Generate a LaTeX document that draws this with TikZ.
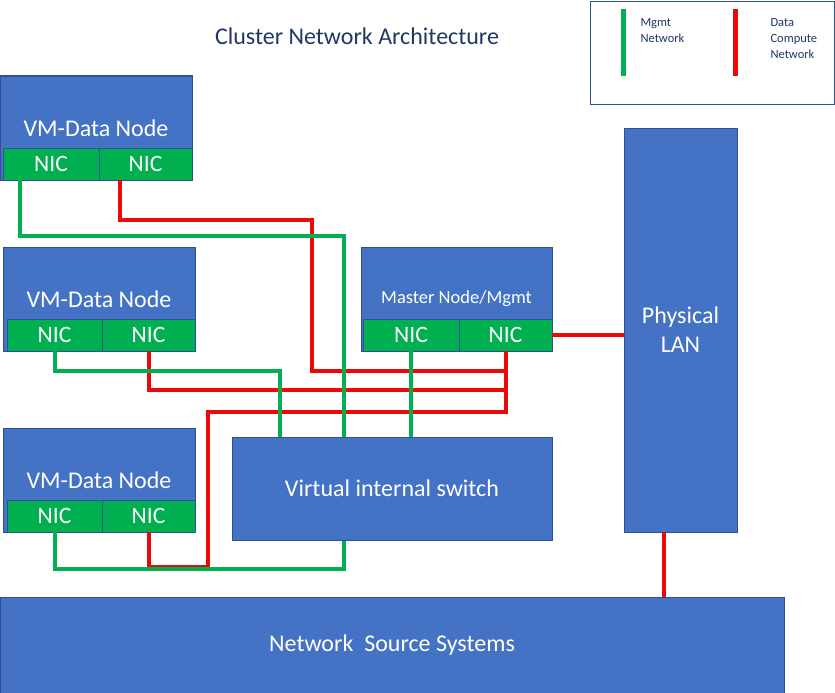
\documentclass[tikz,border=0pt]{standalone}
\usepackage{fontspec}
\setmainfont{Carlito}
\usetikzlibrary{calc}
\definecolor{boxblue}{HTML}{4472C4}
\definecolor{boxedge}{HTML}{2F528F}
\definecolor{nicgreen}{HTML}{00B050}
\definecolor{wirered}{RGB}{235,8,8}
\definecolor{navy}{HTML}{203864}
\tikzset{
  bluebox/.style={draw=boxedge, line width=1pt, fill=boxblue, text=white, inner sep=0pt, align=center},
  nicbox/.style={draw=boxedge, line width=0.7pt, fill=nicgreen, text=white, inner sep=0pt,
    minimum height=32pt, font=\fontsize{23.5}{26}\selectfont},
  big/.style={font=\fontsize{24}{29}\selectfont},
  mg/.style={draw=nicgreen, line width=4pt},
  dc/.style={draw=wirered, line width=4pt},
}
\begin{document}
\begin{tikzpicture}[x=1pt,y=-1pt]
\useasboundingbox (0,0) rectangle (835,693);
\fill[white] (0,0) rectangle (835,693);

% title
\node[text=navy, font=\fontsize{24}{28}\selectfont] (title) at (357,36) {Cluster Network Architecture};

% legend
\node[draw=boxedge, line width=1pt, minimum width=244pt, minimum height=102pt, inner sep=0pt] (legend) at (712,53) {};
\node[text=navy, font=\fontsize{12.5}{16}\selectfont, align=left, anchor=north west] (lg1) at (637,15) {Mgmt\\Network};
\node[text=navy, font=\fontsize{12.5}{16}\selectfont, align=left, anchor=north west] (lg2) at (767,15) {Data\\Compute\\Network};
\draw[mg, line width=4.5pt] ($(legend.north west)+(34,8)$) -- ++(0,66);
\draw[dc, line width=4.5pt] ($(legend.north west)+(146,8)$) -- ++(0,66);

% data nodes
\node[bluebox, big, minimum width=192pt, minimum height=104pt] (vm1) at (96,128) {VM-Data Node};
\node[nicbox, minimum width=96pt] (n1a) at (51,164) {NIC};
\node[nicbox, minimum width=93pt] (n1b) at (145.5,164) {NIC};

\node[bluebox, big, minimum width=192pt, minimum height=104pt] (vm2) at (99,299) {VM-Data Node};
\node[nicbox, minimum width=95pt] (n2a) at (54.5,335) {NIC};
\node[nicbox, minimum width=93pt] (n2b) at (148.5,335) {NIC};

\node[bluebox, big, minimum width=192pt, minimum height=104pt] (vm3) at (99,480) {VM-Data Node};
\node[nicbox, minimum width=95pt] (n3a) at (54.5,516) {NIC};
\node[nicbox, minimum width=93pt] (n3b) at (148.5,516) {NIC};

% master
\node[bluebox, font=\fontsize{18.5}{22}\selectfont, minimum width=191pt, minimum height=104pt] (master) at (456.5,299) {Master Node/Mgmt};
\node[nicbox, minimum width=96pt] (nma) at (411,335) {NIC};
\node[nicbox, minimum width=93pt] (nmb) at (505.5,335) {NIC};

% switch, LAN, sources
\node[bluebox, big, minimum width=320pt, minimum height=103pt] (switch) at (392,488.5) {Virtual internal switch};
\node[bluebox, big, minimum width=113pt, minimum height=404pt] (lan) at (680.5,330) {Physical\\LAN};
\node[bluebox, big, minimum width=784pt, minimum height=96pt] (nss) at (392,645) {Network\ \ Source Systems};

% bend coordinates
\coordinate (r1a) at (312,220);
\coordinate (r1b) at (312,371);
\coordinate (r2) at (0,390);
\coordinate (r3a) at (208,567);
\coordinate (r3b) at (208,412);
\coordinate (g1) at (344,236);
\coordinate (g2) at (280,371);
\coordinate (g3) at (344,569);
\coordinate (rn) at (664,532);

% data compute wires
\draw[dc] ($(n1b.south west)+(21,0)$) |- (r1a) -- (r1b) -| (nmb.south);
\draw[dc] (n2b.south) |- (r2 -| nmb.south) -- (nmb.south);
\draw[dc] (n3b.south) |- (r3a) -- (r3b) -| (nmb.south);
\draw[dc] (nmb.east) -- (lan.west |- nmb.east);
\draw[dc] (rn) -- (rn |- nss.north);

% management wires
\draw[mg] ($(n1a.south west)+(17,0)$) |- (g1) -- (g1 |- switch.north);
\draw[mg] (n2a.south) |- (g2) -- (g2 |- switch.north);
\draw[mg] (nma.south) -- (nma.south |- switch.north);
\draw[mg] (n3a.south) |- (g3) -- (g3 |- switch.south);
\end{tikzpicture}
\end{document}
